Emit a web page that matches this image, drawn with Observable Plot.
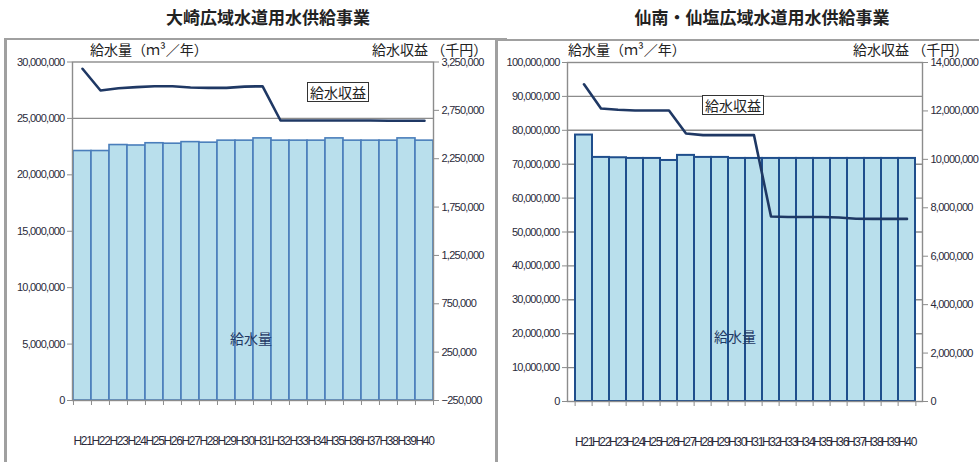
<!DOCTYPE html>
<html><head><meta charset="utf-8">
<script src="https://cdn.jsdelivr.net/npm/d3@7"></script>
<script src="https://cdn.jsdelivr.net/npm/@observablehq/plot@0.6"></script>
<style>
body{margin:0;width:979px;height:462px;position:relative;overflow:hidden;background:#fff;font-family:"Noto Sans CJK JP","Noto Sans",sans-serif;color:#222;}
.abs{position:absolute;white-space:nowrap;}
.title{font-size:17px;font-weight:700;transform:translateX(-50%);line-height:20px;}
.atitle{font-size:14px;line-height:16px;}
.box{font-size:14px;line-height:18px;border:1px solid #333;background:#fff;padding:0 2px;}
.inner{font-size:14px;line-height:16px;color:#1f3864;transform:translate(-50%,-50%);}
.frame{border-left:3px solid #a0a0a0;border-top:2px solid #a0a0a0;}
g[aria-label="y-axis tick label"] text{font-size:11px;letter-spacing:-0.75px;}
g[aria-label="x-axis tick label"] text{font-size:12px;letter-spacing:-1.3px;}
</style></head>
<body>
<script>
const years = ["H21","H22","H23","H24","H25","H26","H27","H28","H29","H30","H31","H32","H33","H34","H35","H36","H37","H38","H39","H40"];
// 大崎広域水道用水供給事業
const osakiVolume = [22110000,22110000,22640000,22600000,22800000,22760000,22900000,22850000,23030000,23030000,23230000,23030000,23030000,23030000,23230000,23030000,23030000,23030000,23230000,23030000];
const osakiRevenue = [3180000,2955000,2978000,2990000,3000000,3000000,2986000,2982000,2982000,2995000,3000000,2645000,2645000,2645000,2645000,2645000,2645000,2643000,2643000,2643000];
const osakiVolTicks = [0,5000000,10000000,15000000,20000000,25000000,30000000];
const osakiRevTicks = [-250000,250000,750000,1250000,1750000,2250000,2750000,3250000];
// 仙南・仙塩広域水道用水供給事業
const sennanVolume = [78600000,72000000,71900000,71700000,71700000,71100000,72600000,72000000,72000000,71700000,71700000,71700000,71700000,71700000,71700000,71700000,71700000,71700000,71700000,71700000];
const sennanRevenue = [13100000,12100000,12050000,12020000,12020000,12020000,11070000,11000000,11000000,11000000,11000000,7640000,7620000,7620000,7620000,7600000,7550000,7540000,7540000,7540000];
const sennanVolTicks = [0,10000000,20000000,30000000,40000000,50000000,60000000,70000000,80000000,90000000,100000000];
const sennanRevTicks = [0,2000000,4000000,6000000,8000000,10000000,12000000,14000000];

const tickFont = '"Liberation Sans",Arial,sans-serif';
const fmt = d3.format(",");

function add(el, css, cls, text) {
  const d = document.createElement("div");
  d.className = "abs " + (cls || "");
  Object.assign(d.style, css);
  if (text != null) d.textContent = text;
  document.body.appendChild(d);
  return d;
}

function panel(cfg) {
  const rows = years.map((y, i) => ({year: y, vol: cfg.vol[i], rev: cfg.rev[i]}));
  const m = cfg.m;
  const bw = (cfg.width - m.left - m.right) / years.length;
  const common = {
    width: cfg.width, height: cfg.height,
    marginLeft: m.left, marginRight: m.right, marginTop: m.top, marginBottom: m.bottom,
    style: {fontFamily: tickFont, fontSize: "11px", color: "#2a2a3a", background: "transparent", overflow: "visible"}
  };
  const base = Plot.plot({
    ...common,
    x: {type: "band", domain: years, padding: 0},
    y: {domain: cfg.volDomain},
    marks: [
      Plot.ruleY(cfg.volTicks.slice(1, -1), {stroke: "#8c8c8c", strokeWidth: 1.4}),
      Plot.barY(rows, {x: "year", y: "vol", fill: "#b9dfec", stroke: cfg.barStroke, strokeWidth: cfg.barStrokeWidth}),
      Plot.frame({stroke: "#8c8c8c", strokeWidth: 1.4}),
      Plot.axisY({ticks: cfg.volTicks, tickFormat: fmt, tickSize: 5, tickPadding: 3, label: null, stroke: "#8c8c8c"}),
      Plot.axisX(years, {tickSize: 5, tickFormat: () => "", dx: -bw / 2, label: null, stroke: "#8c8c8c"}),
      Plot.axisX([years[years.length - 1]], {tickSize: 5, tickFormat: () => "", dx: bw / 2, label: null, stroke: "#8c8c8c"}),
      Plot.axisX({tickSize: 0, tickPadding: 36, label: null})
    ]
  });
  const over = Plot.plot({
    ...common,
    x: {type: "band", domain: years, padding: 0, axis: null},
    y: {domain: cfg.revDomain},
    marks: [
      Plot.lineY(rows, {x: "year", y: "rev", stroke: "#1f3864", strokeWidth: 2.6}),
      Plot.axisY({anchor: "right", ticks: cfg.revTicks, tickFormat: fmt, tickSize: 5, tickPadding: 3, label: null, stroke: "#8c8c8c"})
    ]
  });
  for (const svg of [base, over]) {
    const w = document.createElement("div");
    w.className = "abs";
    Object.assign(w.style, {left: cfg.left + "px", top: cfg.top + "px"});
    w.appendChild(svg);
    document.body.appendChild(w);
  }
}

// panel frames
add(null, {left: "4px", top: "38px", width: "500px", height: "440px"}, "frame");
add(null, {left: "495px", top: "39px", width: "500px", height: "440px"}, "frame");

panel({left: 5, top: 39, width: 484, height: 423, m: {left: 67, right: 56, top: 22.5, bottom: 62},
  vol: osakiVolume, rev: osakiRevenue, volDomain: [0, 30000000], revDomain: [-250000, 3250000],
  volTicks: osakiVolTicks, revTicks: osakiRevTicks, barStroke: "#4a7ebb", barStrokeWidth: 1.6});
panel({left: 497, top: 40, width: 482, height: 422, m: {left: 70, right: 57, top: 22, bottom: 61},
  vol: sennanVolume, rev: sennanRevenue, volDomain: [0, 100000000], revDomain: [0, 14000000],
  volTicks: sennanVolTicks, revTicks: sennanRevTicks, barStroke: "#1f4e8c", barStrokeWidth: 2});

// titles
add(null, {left: "268px", top: "7px"}, "title", "大崎広域水道用水供給事業");
add(null, {left: "762px", top: "7px"}, "title", "仙南・仙塩広域水道用水供給事業");
// axis titles
add(null, {left: "90px", top: "41px"}, "atitle", "給水量（ｍ³／年）");
add(null, {left: "372px", top: "41px"}, "atitle", "給水収益 （千円）");
add(null, {left: "568px", top: "41px"}, "atitle", "給水量（ｍ³／年）");
add(null, {left: "853px", top: "41px"}, "atitle", "給水収益 （千円）");
// annotations
add(null, {left: "307px", top: "82px"}, "box", "給水収益");
add(null, {left: "702px", top: "95px"}, "box", "給水収益");
add(null, {left: "251px", top: "338px"}, "inner", "給水量");
add(null, {left: "735px", top: "336px"}, "inner", "給水量");
</script>
</body></html>
